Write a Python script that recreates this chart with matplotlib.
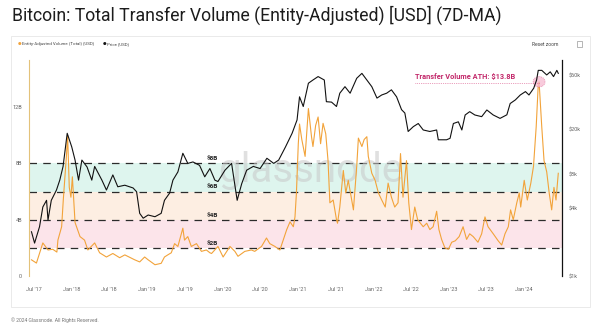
import numpy as np
import pandas as pd
import matplotlib
matplotlib.use('agg')
import matplotlib.pyplot as plt
import matplotlib.dates as mdates
from matplotlib.patches import Ellipse, Rectangle

plt.rcParams['font.family'] = ['Roboto', 'DejaVu Sans']

# entity-adjusted transfer volume, 7D-MA, billions USD
vol_dates = [
    '2017-06-20', '2017-07-14', '2017-08-14', '2017-09-08', '2017-10-01', '2017-10-21',
    '2017-10-26', '2017-11-13', '2017-11-21', '2017-12-07', '2017-12-12', '2017-12-20',
    '2017-12-28', '2018-01-04', '2018-01-17', '2018-02-10', '2018-03-04', '2018-03-20',
    '2018-04-22', '2018-05-16', '2018-06-18', '2018-07-19', '2018-08-21', '2018-09-15',
    '2018-11-02', '2018-11-26', '2018-12-20', '2019-01-06', '2019-02-08', '2019-03-10',
    '2019-03-26', '2019-04-11', '2019-04-28', '2019-05-14', '2019-05-30', '2019-06-23',
    '2019-07-01', '2019-07-17', '2019-08-03', '2019-08-28', '2019-09-21', '2019-10-15',
    '2019-11-01', '2019-11-09', '2019-12-10', '2020-01-04', '2020-02-06', '2020-03-01',
    '2020-03-16', '2020-04-18', '2020-05-20', '2020-06-05', '2020-07-08', '2020-08-01',
    '2020-08-17', '2020-09-11', '2020-10-05', '2020-10-21', '2020-11-07', '2020-11-23',
    '2020-12-09', '2020-12-17', '2020-12-24', '2021-01-02', '2021-01-08', '2021-01-19',
    '2021-02-04', '2021-02-20', '2021-03-07', '2021-03-14', '2021-03-27', '2021-04-08',
    '2021-04-20', '2021-05-02', '2021-05-15', '2021-05-26', '2021-06-04', '2021-06-20',
    '2021-06-28', '2021-07-06', '2021-07-11', '2021-07-22', '2021-08-08', '2021-08-20',
    '2021-09-01', '2021-09-18', '2021-09-26', '2021-10-12', '2021-10-20', '2021-11-06',
    '2021-11-17', '2021-11-30', '2021-12-07', '2021-12-24', '2022-01-09', '2022-01-25',
    '2022-02-10', '2022-02-27', '2022-03-13', '2022-03-29', '2022-04-14', '2022-04-30',
    '2022-05-12', '2022-05-24', '2022-06-10', '2022-06-21', '2022-07-04', '2022-07-20',
    '2022-08-03', '2022-08-30', '2022-09-16', '2022-10-01', '2022-10-17', '2022-11-03',
    '2022-11-14', '2022-11-27', '2022-12-13', '2022-12-30', '2023-01-15', '2023-02-01',
    '2023-02-20', '2023-03-11', '2023-03-28', '2023-04-12', '2023-04-29', '2023-05-22',
    '2023-06-09', '2023-06-25', '2023-07-10', '2023-08-04', '2023-08-28', '2023-09-14',
    '2023-09-30', '2023-10-16', '2023-10-27', '2023-11-09', '2023-11-26', '2023-12-08',
    '2023-12-15', '2024-01-01', '2024-01-16', '2024-02-02', '2024-02-15', '2024-02-28',
    '2024-03-09', '2024-03-13', '2024-03-26', '2024-04-06', '2024-04-19', '2024-05-01',
    '2024-05-13', '2024-05-24', '2024-06-03', '2024-06-14',
]
vol_bn = [
    1.15, 0.92, 2.35, 1.85, 1.9, 1.7,
    2.55, 3.5, 5.4, 8.7, 10.0, 6.3,
    5.6, 7.05, 3.8, 2.8, 2.55, 1.85,
    2.35, 1.65, 1.35, 1.6, 1.3, 1.5,
    1.15, 1.0, 1.35, 1.15, 0.8, 0.9,
    1.35, 1.5, 1.65, 2.3, 2.1, 3.4,
    2.55, 2.8, 2.1, 2.3, 1.75, 1.85,
    1.65, 1.6, 2.1, 1.35, 2.1, 1.75,
    1.4, 1.75, 1.85, 1.75, 2.1, 2.7,
    2.3, 2.1, 1.85, 2.55, 3.3, 3.85,
    3.5, 4.2, 5.9, 9.4, 10.8, 9.7,
    8.5, 11.9, 9.9, 9.2, 10.7, 11.3,
    9.4, 10.85, 10.1, 8.2, 5.2, 5.4,
    4.7, 4.0, 3.75, 4.9, 7.5, 5.9,
    6.8, 5.4, 4.7, 7.8, 9.8, 9.2,
    9.7, 9.9, 8.5, 7.3, 6.8, 5.9,
    5.4, 4.9, 6.6, 5.6, 4.9, 5.2,
    8.7, 5.6, 8.2, 5.2, 3.3, 4.9,
    4.0, 3.5, 3.75, 3.3, 3.5, 4.6,
    3.3, 2.6, 2.0, 1.9, 2.4, 2.5,
    2.8, 3.5, 2.6, 3.0, 2.8, 2.4,
    3.0, 4.2, 3.5, 3.0, 2.5, 2.2,
    3.0, 3.5, 4.7, 4.0, 5.2, 5.9,
    4.9, 6.8, 5.4, 6.6, 7.8, 10.6,
    13.6, 13.8, 10.6, 8.2, 7.4, 5.9,
    4.7, 6.3, 5.4, 7.3,
]

# BTC price, USD
px_dates = [
    '2017-06-20', '2017-07-05', '2017-07-29', '2017-08-14', '2017-09-01', '2017-09-08',
    '2017-09-24', '2017-10-19', '2017-11-04', '2017-11-20', '2017-12-10', '2018-01-01',
    '2018-01-17', '2018-02-03', '2018-02-19', '2018-03-16', '2018-04-08', '2018-04-22',
    '2018-05-27', '2018-06-18', '2018-07-19', '2018-08-12', '2018-09-15', '2018-10-25',
    '2018-11-11', '2018-11-26', '2018-12-13', '2019-01-06', '2019-02-08', '2019-03-10',
    '2019-03-26', '2019-04-20', '2019-05-06', '2019-05-30', '2019-06-23', '2019-07-17',
    '2019-08-11', '2019-09-12', '2019-10-07', '2019-11-01', '2019-11-25', '2019-12-10',
    '2020-01-13', '2020-02-14', '2020-03-12', '2020-04-03', '2020-04-27', '2020-05-29',
    '2020-07-01', '2020-08-03', '2020-09-05', '2020-09-29', '2020-11-01', '2020-12-03',
    '2020-12-27', '2021-01-08', '2021-01-26', '2021-02-20', '2021-03-14', '2021-04-08',
    '2021-05-08', '2021-05-18', '2021-06-12', '2021-07-06', '2021-07-22', '2021-08-16',
    '2021-09-10', '2021-10-12', '2021-11-06', '2021-11-30', '2021-12-24', '2022-01-18',
    '2022-02-10', '2022-03-06', '2022-03-29', '2022-04-23', '2022-05-17', '2022-06-02',
    '2022-06-18', '2022-07-13', '2022-08-06', '2022-08-30', '2022-10-01', '2022-11-03',
    '2022-11-11', '2022-12-21', '2023-01-07', '2023-01-23', '2023-02-16', '2023-03-05',
    '2023-03-21', '2023-04-12', '2023-05-07', '2023-06-09', '2023-07-04', '2023-08-04',
    '2023-09-06', '2023-10-09', '2023-10-25', '2023-11-19', '2023-12-13', '2024-01-07',
    '2024-01-24', '2024-02-16', '2024-03-01', '2024-03-09', '2024-03-26', '2024-04-19',
    '2024-05-06', '2024-05-22', '2024-06-07', '2024-06-14',
]
px_usd = [
    2470, 1960, 2740, 4100, 4700, 3140,
    4700, 5800, 7100, 9400, 18500, 14000,
    10700, 7100, 10700, 9300, 7100, 9400,
    7100, 5800, 7900, 6200, 6400, 6050,
    5600, 3600, 3260, 3480, 3360, 3600,
    4700, 5450, 7100, 8400, 12300, 10000,
    10300, 9600, 7600, 9000, 7100, 6900,
    8700, 10000, 4700, 6600, 8700, 9400,
    9000, 11100, 10000, 10700, 14000, 18500,
    24300, 39000, 32000, 51500, 55000, 59000,
    55000, 35300, 35000, 32000, 42000, 48000,
    42000, 57000, 63000, 55000, 48000, 38000,
    40500, 42000, 45000, 39000, 30000, 28000,
    19200, 21200, 22600, 19800, 19200, 19800,
    16200, 16200, 16700, 22600, 23400, 19800,
    26900, 28800, 26900, 26000, 29800, 26900,
    25100, 27000, 34000, 36600, 40500, 43400,
    40500, 46500, 55000, 67000, 67000, 61000,
    65000, 59000, 67000, 63000,
]

bands = [2, 4, 6, 8]
band_labels = ['$2B', '$4B', '$6B', '$8B']
band_colors = ['#fce4ea', '#fdeee2', '#def5ee']

x_ticks = pd.date_range('2017-07-01', '2024-01-01', freq='6MS')
vol_ticks = [0, 4, 8, 12]
vol_tick_labels = ['0', '4B', '8B', '12B']
px_ticks = [1000, 4000, 8000, 20000, 60000]
px_tick_labels = ['$1k', '$4k', '$8k', '$20k', '$60k']

ath_date = '2024-03-13'
ath_value = 13.8

ORANGE = '#f2a33a'
TICK_GREY = '#666666'

vd = pd.to_datetime(vol_dates)
pd_ = pd.to_datetime(px_dates)

fig = plt.figure(figsize=(6, 3.36), dpi=100)
fig.patch.set_facecolor('white')

# outer panel
fig.patches.append(Rectangle((11 / 600, 1 - 307 / 336), 579 / 600, 271 / 336,
                             transform=fig.transFigure, facecolor='white',
                             edgecolor='#e6e6e6', lw=0.6, zorder=0))

fig.text(12 / 600, 1 - 15 / 336, 'Bitcoin: Total Transfer Volume (Entity-Adjusted) [USD] (7D-MA)',
         fontsize=12.7, color='#1c1c1c', va='center', ha='left')

# legend row
fig.text(18 / 600, 1 - 44 / 336, '●', color=ORANGE, fontsize=3, va='center', ha='left')
fig.text(22 / 600, 1 - 44 / 336, 'Entity-Adjusted Volume (Total) [USD]', color='#444444',
         fontsize=3.2, va='center', ha='left')
fig.text(103 / 600, 1 - 44 / 336, '●', color='#111111', fontsize=3, va='center', ha='left')
fig.text(107 / 600, 1 - 44 / 336, 'Price [USD]', color='#444444', fontsize=3.2,
         va='center', ha='left')
fig.text(558 / 600, 1 - 44 / 336, 'Reset zoom', color='#444444', fontsize=3.6,
         va='center', ha='right')
fig.patches.append(Rectangle((577 / 600, 1 - 47 / 336), 5 / 600, 6 / 336,
                             transform=fig.transFigure, facecolor='none',
                             edgecolor='#999999', lw=0.5))

fig.text(11 / 600, 1 - 320 / 336, '© 2024 Glassnode. All Rights Reserved.', color='#777777',
         fontsize=3.6, va='center', ha='left')

ax = fig.add_axes([29 / 600, 60 / 336, 533 / 600, 216 / 336])
ax.set_facecolor('none')
ax.set_zorder(1)
ax2 = ax.twinx()
ax2.set_zorder(2)

for i in range(3):
    ax.axhspan(bands[i], bands[i + 1], color=band_colors[i], lw=0, zorder=0)
for b in bands:
    ax.axhline(b, color='#2b2b2b', lw=0.9, ls=(0, (6, 5)), zorder=1)

x_lab = pd.Timestamp('2019-10-14')
for b, lab in zip(bands, band_labels):
    ax.text(x_lab, b + 0.15, lab, fontsize=4.6, fontweight='bold', color='#222222',
            ha='left', va='bottom', zorder=3)

# watermark
ax.text(0.528, 0.49, 'glassnode', transform=ax.transAxes, fontsize=29, color='#c8c8c8',
        alpha=0.55, ha='center', va='center', zorder=1)

ax.plot(vd, vol_bn, color=ORANGE, lw=0.8, zorder=4)

# volume ATH marker
ath = pd.Timestamp(ath_date)
ax.add_patch(Ellipse((mdates.date2num(ath), ath_value), 58, 0.75, facecolor='#f7bfd4',
                     edgecolor='#d6447f', lw=0.5, ls=':', alpha=0.8, zorder=5))
ax.plot([pd.Timestamp('2022-07-23'), ath], [13.7, 13.7], color='#d6447f', lw=0.5, ls=':',
        zorder=5)
ax.text(pd.Timestamp('2022-07-23'), 14.15, 'Transfer Volume ATH: $13.8B', color='#c2286a',
        fontsize=5.3, fontweight='bold', ha='left', va='center', zorder=5)

ax2.plot(pd_, px_usd, color='#111111', lw=0.8)
ax2.set_yscale('log')
ax2.set_ylim(1000, 82800)
ax2.set_yticks(px_ticks)
ax2.set_yticklabels(px_tick_labels)
ax2.yaxis.set_minor_locator(matplotlib.ticker.NullLocator())

ax.set_xlim(pd.Timestamp('2017-06-08'), pd.Timestamp('2024-07-02'))
ax.set_ylim(0, 15.35)
ax.set_yticks(vol_ticks)
ax.set_yticklabels(vol_tick_labels)
ax.set_xticks(x_ticks)
ax.set_xticklabels([d.strftime("%b '%y") for d in x_ticks])

for a in (ax, ax2):
    a.tick_params(length=0, labelsize=4, colors=TICK_GREY, pad=5)
    for side in ('top', 'left', 'right', 'bottom'):
        a.spines[side].set_visible(False)
ax.spines['left'].set_visible(True)
ax.spines['left'].set_color('#e3c27a')
ax.spines['left'].set_linewidth(0.8)
ax2.spines['right'].set_visible(True)
ax2.spines['right'].set_color('#111111')
ax2.spines['right'].set_linewidth(0.9)
ax.tick_params(axis='x', pad=8)

fig.savefig('out.png', dpi=100, facecolor='white')
